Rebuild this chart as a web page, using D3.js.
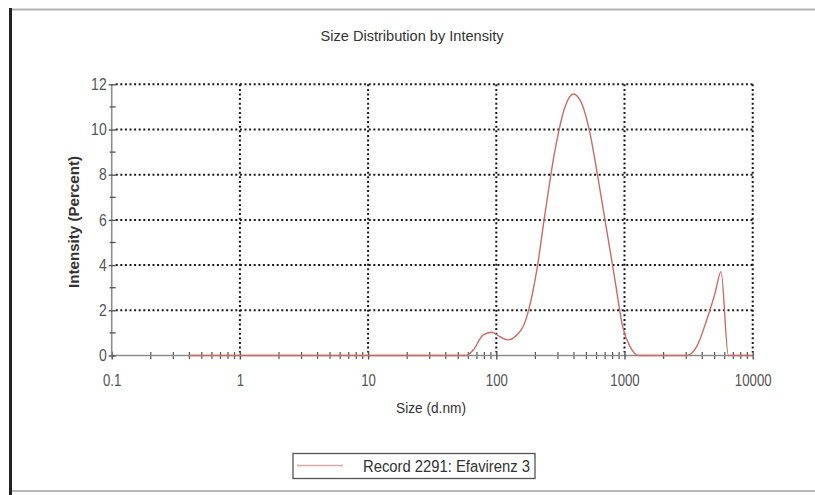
<!DOCTYPE html>
<html>
<head>
<meta charset="utf-8">
<script src="https://cdn.jsdelivr.net/npm/d3@7"></script>
<style>
  html, body { margin: 0; padding: 0; background: #fff; }
  svg { display: block; font-family: "Liberation Sans", Arial, sans-serif; }
</style>
</head>
<body>
<svg id="chart" width="815" height="495"></svg>
<script>
// Particle size (d.nm) and intensity (%) of the measured distribution
const sizes = [0.4, 58, 66, 79, 92, 107, 124, 140, 173, 207, 240, 287, 344, 399, 463, 538,
               625, 726, 843, 968, 1105, 1283, 3055, 3656, 4375, 5083, 5662, 6457, 10000];
const intensity = [0, 0, 0.24, 0.91, 1.03, 0.83, 0.69, 0.83, 1.72, 3.78, 6.29, 9.09, 11.01, 11.57, 11.16, 9.83,
                   7.77, 5.55, 3.34, 1.27, 0.39, 0, 0, 0.39, 1.57, 2.75, 3.71, 0, 0];

const xTicks = [0.1, 1, 10, 100, 1000, 10000];
const xTickLabels = ["0.1", "1", "10", "100", "1000", "10000"];
const yTicks = [0, 2, 4, 6, 8, 10, 12];
const yMinorTicks = [1, 3, 5, 7, 9, 11];

const title = "Size Distribution by Intensity";
const xTitle = "Size (d.nm)";
const yTitle = "Intensity (Percent)";
const seriesName = "Record 2291: Efavirenz 3";

const svg = d3.select("#chart");

const x = d3.scaleLog().domain([0.1, 10000]).range([111.7, 752.7]);
const y = d3.scaleLinear().domain([0, 12]).range([355.5, 84.3]);

// squeeze text horizontally to the narrow face used by the instrument software
function squeeze(sel, factor) {
  sel.each(function () {
    const w = this.getComputedTextLength();
    d3.select(this).attr("textLength", w * factor).attr("lengthAdjust", "spacingAndGlyphs");
  });
}

// page frame
svg.append("line").attr("x1", 10).attr("x2", 815).attr("y1", 9.5).attr("y2", 9.5)
  .attr("stroke", "#b4b4b4").attr("stroke-width", 2);
svg.append("line").attr("x1", 10).attr("x2", 815).attr("y1", 491).attr("y2", 491)
  .attr("stroke", "#a0a0a0").attr("stroke-width", 1.5);
svg.append("line").attr("x1", 10.5).attr("x2", 10.5).attr("y1", 8).attr("y2", 495)
  .attr("stroke", "#222").attr("stroke-width", 3);

// title
svg.append("text").attr("x", 412).attr("y", 41).attr("text-anchor", "middle")
  .attr("font-size", 14).attr("fill", "#333").text(title)
  .attr("textLength", 183).attr("lengthAdjust", "spacingAndGlyphs");

// dotted grid
const grid = svg.append("g").attr("stroke", "#1a1a1a").attr("stroke-width", 2)
  .attr("stroke-dasharray", "2,2.6");
grid.selectAll("line.h").data(yTicks.filter(d => d > 0)).join("line")
  .attr("x1", x(0.1) + 4).attr("x2", x(10000))
  .attr("y1", d => y(d)).attr("y2", d => y(d));
grid.selectAll("line.v").data(xTicks.filter(d => d > 0.1)).join("line")
  .attr("x1", d => x(d)).attr("x2", d => x(d))
  .attr("y1", y(12)).attr("y2", y(0) - 3);

// x axis
const xAxisG = svg.append("g").attr("transform", `translate(0,${y(0)})`);
const minor = [];
for (let e = -1; e < 4; e++) for (let m = 2; m <= 9; m++) minor.push(m * Math.pow(10, e));
xAxisG.call(d3.axisBottom(x).tickValues(minor).tickSize(0).tickFormat(""));
xAxisG.call(g => g.select(".domain").remove());
xAxisG.append("line").attr("x1", x(0.1)).attr("x2", x(10000))
  .attr("stroke", "#8c8c8c").attr("stroke-width", 1.6);
xAxisG.selectAll(".tick line").attr("y1", -3.5).attr("y2", 3.5)
  .attr("stroke", "#555").attr("stroke-width", 1.2);
const xMajor = svg.append("g").attr("transform", `translate(0,${y(0)})`)
  .call(d3.axisBottom(x).tickValues(xTicks).tickSize(0)
    .tickFormat((d, i) => xTickLabels[i]));
xMajor.select(".domain").remove();
xMajor.selectAll(".tick line").attr("y1", -4).attr("y2", 4)
  .attr("stroke", "#555").attr("stroke-width", 1.4);
xMajor.selectAll(".tick text").attr("y", 19).attr("dy", "0.71em")
  .attr("font-size", 16.5).attr("fill", "#555")
  .attr("font-family", "Liberation Sans, Arial, sans-serif").call(squeeze, 0.8);

// y axis
const yAxisG = svg.append("g").attr("transform", `translate(${x(0.1)},0)`);
yAxisG.append("line").attr("y1", y(0)).attr("y2", y(12))
  .attr("stroke", "#8c8c8c").attr("stroke-width", 1.6);
yAxisG.selectAll("line.minor").data(yMinorTicks).join("line")
  .attr("x1", -2).attr("x2", 4).attr("y1", d => y(d)).attr("y2", d => y(d))
  .attr("stroke", "#555").attr("stroke-width", 1.3);
const yMajor = svg.append("g").attr("transform", `translate(${x(0.1)},0)`)
  .call(d3.axisLeft(y).tickValues(yTicks).tickSize(0).tickFormat(d3.format("d")));
yMajor.select(".domain").remove();
yMajor.selectAll(".tick line").attr("x1", -3).attr("x2", 4)
  .attr("stroke", "#555").attr("stroke-width", 1.4);
yMajor.selectAll(".tick text").attr("x", -5).attr("font-size", 16.5).attr("fill", "#555")
  .attr("font-family", "Liberation Sans, Arial, sans-serif").call(squeeze, 0.85);

// axis titles
svg.append("text").attr("x", 431).attr("y", 413).attr("text-anchor", "middle")
  .attr("font-size", 14).attr("fill", "#333").text(xTitle)
  .attr("textLength", 70).attr("lengthAdjust", "spacingAndGlyphs");
svg.append("text").attr("transform", `translate(79,222) rotate(-90)`)
  .attr("text-anchor", "middle").attr("font-size", 15).attr("font-weight", "bold")
  .attr("fill", "#333").text(yTitle)
  .attr("textLength", 132).attr("lengthAdjust", "spacingAndGlyphs");

// distribution curve
const line = d3.line().x((d, i) => x(sizes[i])).y(d => y(d)).curve(d3.curveMonotoneX);
svg.append("path").datum(intensity).attr("d", line)
  .attr("fill", "none").attr("stroke", "#cc6a66").attr("stroke-width", 1.4);

// legend
const lg = svg.append("g");
lg.append("rect").attr("x", 293).attr("y", 453.5).attr("width", 242).attr("height", 25)
  .attr("fill", "#fff").attr("stroke", "#555").attr("stroke-width", 1.3);
lg.append("line").attr("x1", 297).attr("x2", 343).attr("y1", 465.5).attr("y2", 465.5)
  .attr("stroke", "#d9aaa4").attr("stroke-width", 1.5);
lg.append("text").attr("x", 363).attr("y", 471.5).attr("font-size", 16).attr("fill", "#333")
  .text(seriesName).attr("textLength", 167).attr("lengthAdjust", "spacingAndGlyphs");
</script>
</body>
</html>
